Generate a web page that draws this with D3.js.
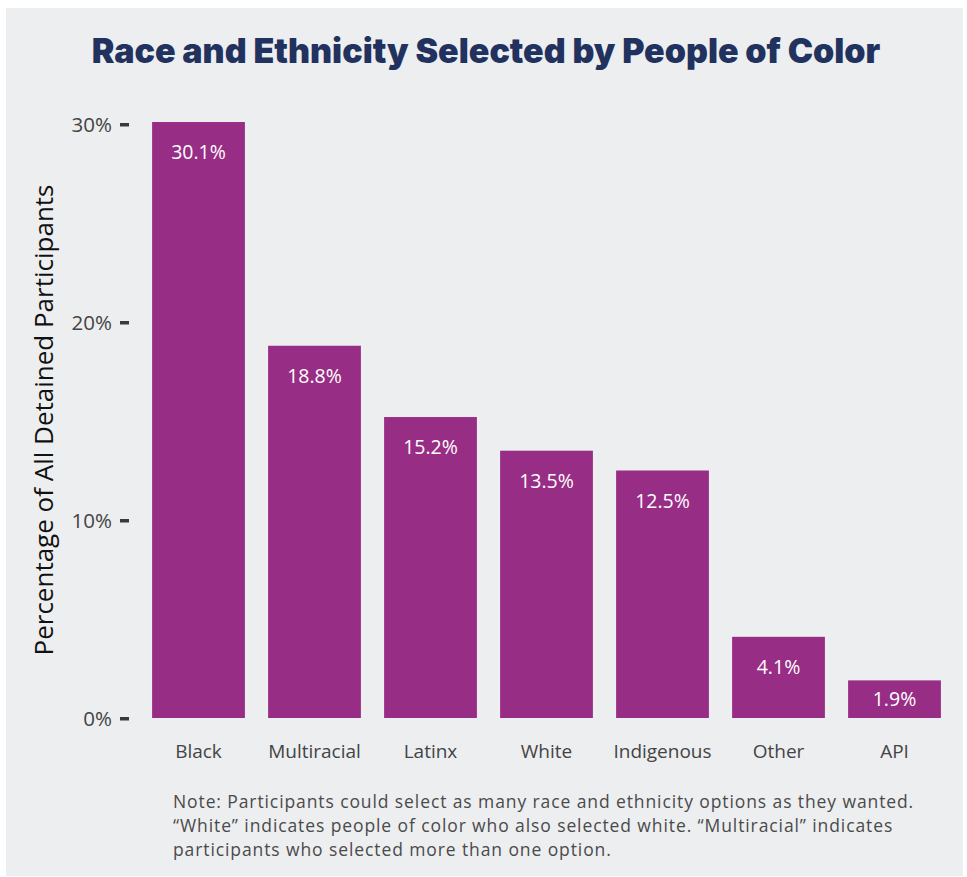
<!DOCTYPE html>
<html><head><meta charset="utf-8">
<script src="https://cdn.jsdelivr.net/npm/d3@7"></script>
<style>
html,body{margin:0;padding:0;background:#fff;}
svg{display:block;}
</style></head>
<body>
<svg id="chart" width="967" height="877"></svg>
<script>
const categories = ["Black","Multiracial","Latinx","White","Indigenous","Other","API"];
const values = [30.1, 18.8, 15.2, 13.5, 12.5, 4.1, 1.9];
const valueLabels = ["30.1%","18.8%","15.2%","13.5%","12.5%","4.1%","1.9%"];
const yTicks = [0, 10, 20, 30];
const title = "Race and Ethnicity Selected by People of Color";
const yTitle = "Percentage of All Detained Participants";
const noteLines = [
  "Note: Participants could select as many race and ethnicity options as they wanted.",
  "\u201CWhite\u201D indicates people of color who also selected white. \u201CMultiracial\u201D indicates",
  "participants who selected more than one option."
];

const svg = d3.select("#chart");
const font = "'Open Sans', 'DejaVu Sans', sans-serif";

svg.append("rect").attr("x", 6).attr("y", 8).attr("width", 957).attr("height", 868).attr("fill", "#edeef0");

const x = d3.scaleBand().domain(categories).range([140.5, 952.5]).paddingInner(0.2).paddingOuter(0.1);
const y = d3.scaleLinear().domain([0, 30]).range([718, 124]);

// title
const t = svg.append("text").attr("x", 486).attr("y", 63).attr("text-anchor", "middle")
  .attr("font-family", "Inter, Roboto, sans-serif").attr("font-weight", 900)
  .attr("font-size", 32).attr("fill", "#22325f").text(title);
let tw = t.node().getComputedTextLength();
t.attr("font-size", 32 * 789 / tw);

// bars
svg.append("g").selectAll("rect").data(categories).join("rect")
  .attr("x", d => x(d)).attr("width", x.bandwidth())
  .attr("y", (d, i) => y(values[i])).attr("height", (d, i) => y(0) - y(values[i]))
  .attr("fill", "#982d85");

svg.append("g").selectAll("text").data(categories).join("text")
  .attr("x", d => x(d) + x.bandwidth() / 2)
  .attr("y", (d, i) => {
    const h = y(0) - y(values[i]);
    return y(values[i]) + Math.min(37, h / 2 + 7);
  })
  .attr("text-anchor", "middle").attr("font-family", font).attr("font-size", 19.5)
  .attr("fill", "#ffffff").text((d, i) => valueLabels[i]);

// y axis
const yAxis = d3.axisLeft(y).tickValues(yTicks).tickFormat(d => d + "%").tickSize(0).tickPadding(0);
const ga = svg.append("g").attr("transform", "translate(120,0)").call(yAxis);
ga.select(".domain").remove();
ga.selectAll(".tick text").attr("x", -8).attr("dy", "0.36em")
  .attr("font-family", font).attr("font-size", 20.5).attr("fill", "#444");
ga.selectAll(".tick").append("rect").attr("x", 0).attr("y", -1.5).attr("width", 9).attr("height", 3.5).attr("fill", "#3a3a3a");

// x axis
const xAxis = d3.axisBottom(x).tickSize(0).tickPadding(0);
const gx = svg.append("g").attr("transform", "translate(0,740)").call(xAxis);
gx.select(".domain").remove();
gx.selectAll(".tick text").attr("y", 0).attr("dy", "18")
  .attr("font-family", font).attr("font-size", 19).attr("fill", "#444");

// y title
svg.append("text").attr("transform", "translate(53,420) rotate(-90)")
  .attr("text-anchor", "middle").attr("font-family", font).attr("font-size", 26)
  .attr("fill", "#111").text(yTitle);

// note
noteLines.forEach((line, i) => {
  svg.append("text").attr("x", 173).attr("y", 808 + i * 24)
    .attr("font-family", font).attr("font-size", 17.5).attr("letter-spacing", 0.9)
    .attr("fill", "#4a4a4a").text(line);
});
</script>
</body></html>
